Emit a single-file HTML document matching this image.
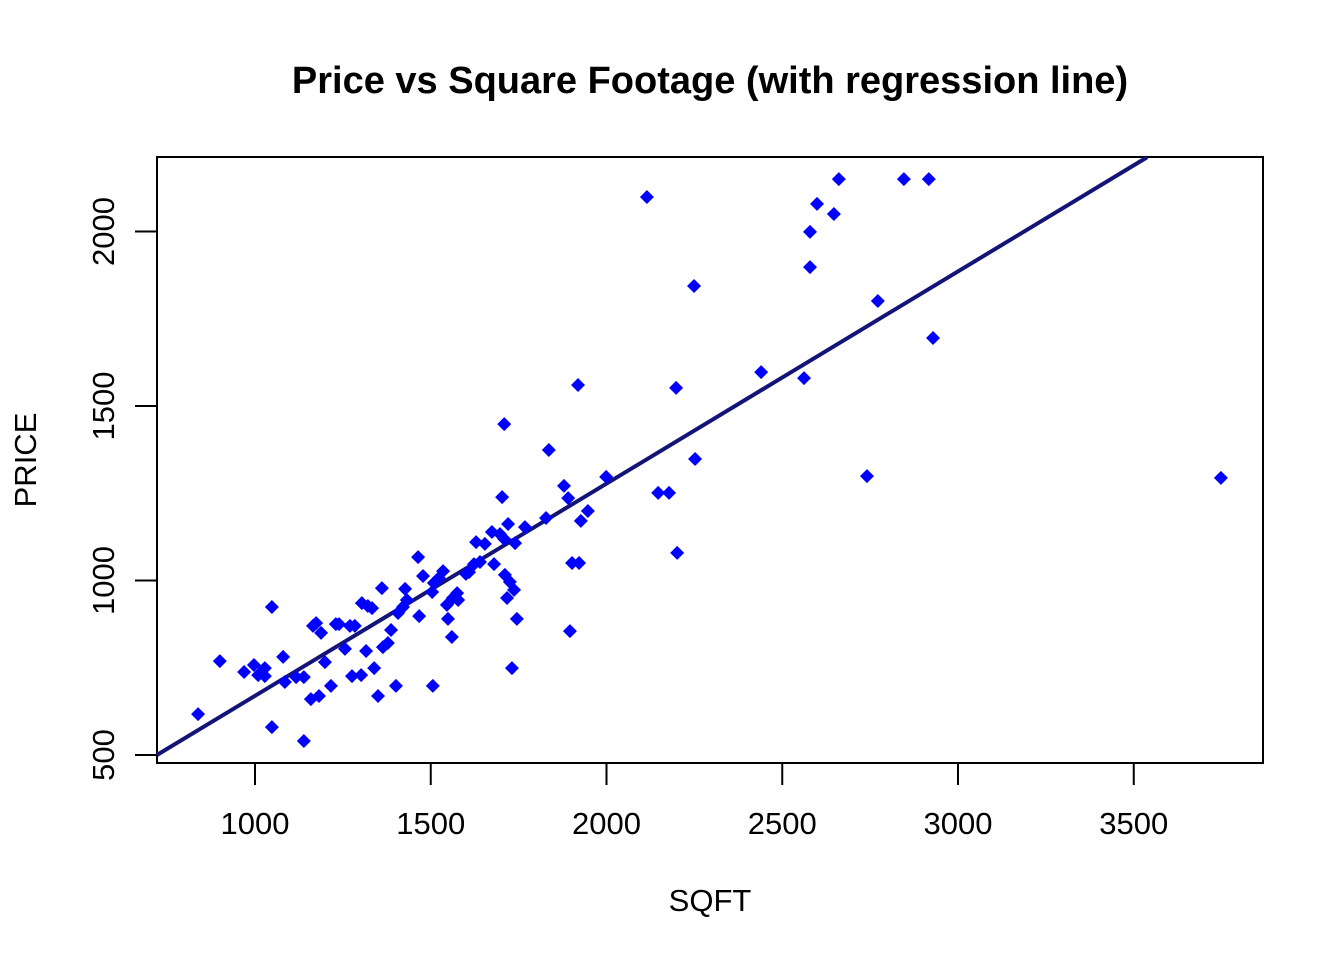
<!DOCTYPE html>
<html><head><meta charset="utf-8"><style>
html,body{margin:0;padding:0;background:#fff;}
svg text{font-family:"Liberation Sans",Arial,sans-serif;fill:#000;}
</style></head><body>
<svg id="chart" width="1344" height="960" xmlns="http://www.w3.org/2000/svg">
<rect width="1344" height="960" fill="#fff"/>
<text x="710" y="93" text-anchor="middle" font-size="38" font-weight="bold">Price vs Square Footage (with regression line)</text>
<rect x="157" y="157" width="1106" height="606" fill="none" stroke="#000" stroke-width="2"/>
<text x="710" y="911" text-anchor="middle" font-size="31">SQFT</text>
<text transform="translate(36,460) rotate(-90)" text-anchor="middle" font-size="31">PRICE</text>
<g id="axes"></g>
<g id="line"></g>
<g id="points"></g>
</svg>
<script>
const sqft=[838,900,969,997,1009,1028,1028,1048,1048,1080,1085,1117,1139,1139,1159,1165,1174,1182,1188,1199,1216,1230,1239,1256,1270,1276,1284,1302,1304,1316,1321,1333,1339,1350,1361,1364,1378,1387,1401,1407,1421,1427,1432,1464,1467,1478,1504,1506,1509,1523,1535,1546,1549,1560,1563,1575,1578,1600,1609,1623,1629,1640,1654,1674,1680,1697,1703,1709,1709,1711,1717,1720,1725,1731,1737,1740,1745,1768,1828,1836,1879,1891,1896,1902,1919,1922,1927,1947,1999,2115,2147,2178,2198,2201,2249,2252,2440,2562,2579,2579,2599,2647,2661,2741,2772,2846,2917,2929,3748];
const price=[617,769,738,758,729,749,726,924,580,781,709,723,723,540,660,870,878,669,850,766,698,875,875,804,870,726,870,729,935,798,927,921,749,669,978,809,821,858,698,907,924,976,944,1067,898,1013,967,698,993,1007,1027,930,890,838,950,964,944,1019,1024,1047,1110,1053,1105,1139,1047,1133,1239,1448,1119,1016,950,1162,996,749,973,1107,890,1153,1179,1374,1271,1236,855,1050,1560,1050,1171,1199,1297,2099,1251,1251,1552,1079,1844,1348,1597,1580,1999,1898,2079,2050,2150,1299,1801,2150,2150,1695,1294];
const xTicks=[1000,1500,2000,2500,3000,3500];
const yTicks=[500,1000,1500,2000];
const regIntercept=61.6, regSlope=0.608;
const NS="http://www.w3.org/2000/svg";
function X(v){return 255+(v-1000)*0.3515;}
function Y(v){return 755-(v-500)*0.349;}
function mk(tag,attrs,parent){const e=document.createElementNS(NS,tag);for(const k in attrs)e.setAttribute(k,attrs[k]);parent.appendChild(e);return e;}
const axes=document.getElementById('axes');
mk('line',{x1:X(xTicks[0]),x2:X(xTicks[xTicks.length-1]),y1:763,y2:763,stroke:'#000','stroke-width':2},axes);
xTicks.forEach(t=>{
  const l=mk('line',{x1:X(t),x2:X(t),y1:763,y2:785,stroke:'#000','stroke-width':2},axes);
  
  
  const tx=mk('text',{x:X(t),y:834,'text-anchor':'middle','font-size':31},axes);
  tx.textContent=t;
  
  
});
mk('line',{x1:157,x2:157,y1:Y(yTicks[0]),y2:Y(yTicks[yTicks.length-1]),stroke:'#000','stroke-width':2},axes);
yTicks.forEach(t=>{
  const l=mk('line',{x1:135,x2:157,y1:Y(t),y2:Y(t),stroke:'#000','stroke-width':2},axes);
  
  
  const tx=mk('text',{transform:`translate(114,${Y(t)}) rotate(-90)`,'text-anchor':'middle','font-size':31},axes);
  tx.textContent=t;
  
  
});
const x0=721,x1=3538;
const rl=mk('line',{x1:X(x0),y1:Y(regIntercept+regSlope*x0),x2:X(x1),y2:Y(regIntercept+regSlope*x1),stroke:'#141478','stroke-width':4},document.getElementById('line'));


const pg=document.getElementById('points');
sqft.forEach((s,i)=>{
  const cx=X(s),cy=Y(price[i]),r=7;
  const p=mk('polygon',{points:`${cx},${cy-r} ${cx+r},${cy} ${cx},${cy+r} ${cx-r},${cy}`,fill:'#0000ff'},pg);
  
  
});
</script>
</body></html>
